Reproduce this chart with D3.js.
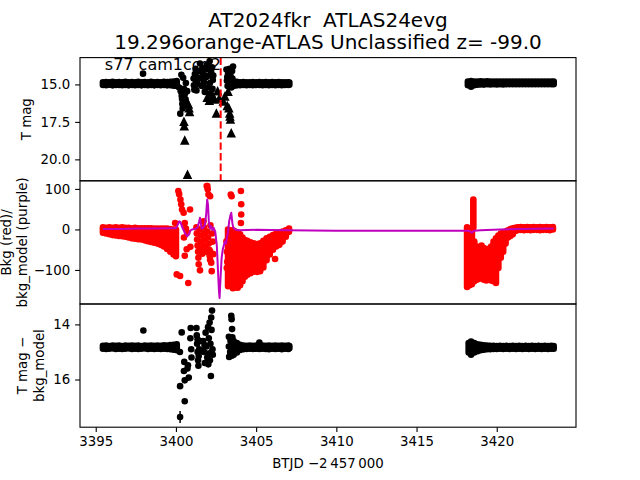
<!DOCTYPE html>
<html><head><meta charset="utf-8">
<script src="https://cdn.jsdelivr.net/npm/d3@7"></script>
<style>body{margin:0;background:#fff}svg text{font-family:"DejaVu Sans",sans-serif;fill:#000;white-space:pre}</style>
</head><body><svg id="c" width="640" height="480"></svg>
<script>
// ---------- data ----------
const titleLines = ["AT2024fkr  ATLAS24evg", "19.296orange-ATLAS Unclassified z= -99.0"];
const panelNote = "s77 cam1ccd2";
const xTicks = [3395, 3400, 3405, 3410, 3415, 3420];
const tmagTicks = [15.0, 17.5, 20.0];
const bkgTicks = [100, 0, -100];
const diffTicks = [14, 16];
const markerT = 3402.79;

// Panel 1: dense T mag band, as [time, faintest-bright spread low, high] per time bin
const tmagBand = [
 [3395.45,14.85,15.03],[3395.65,14.84,15.05],[3395.85,14.86,15.02],[3396.05,14.83,15.06],[3396.25,14.85,15.04],
 [3396.45,14.84,15.03],[3396.65,14.86,15.05],[3396.85,14.83,15.04],[3397.05,14.85,15.06],[3397.25,14.84,15.03],
 [3397.45,14.86,15.05],[3397.65,14.83,15.04],[3397.85,14.85,15.06],[3398.05,14.84,15.03],[3398.25,14.85,15.05],
 [3398.45,14.83,15.04],[3398.65,14.86,15.06],[3398.85,14.84,15.03],[3399.05,14.85,15.05],[3399.25,14.83,15.04],
 [3399.45,14.84,15.06],[3399.65,14.82,15.05],[3399.85,14.80,15.08],[3400.05,14.78,15.10],
 [3403.6,14.80,15.10],[3403.8,14.83,15.06],[3404.0,14.85,15.05],[3404.2,14.84,15.04],[3404.4,14.86,15.05],
 [3404.6,14.85,15.03],[3404.8,14.84,15.05],[3405.0,14.86,15.04],[3405.2,14.84,15.03],[3405.4,14.85,15.05],
 [3405.6,14.84,15.04],[3405.8,14.86,15.05],[3406.0,14.84,15.03],[3406.2,14.85,15.05],[3406.4,14.84,15.04],
 [3406.6,14.86,15.05],[3406.8,14.85,15.04],[3407.0,14.86,15.03],[3407.07,14.87,15.02],
 [3418.2,14.80,15.05],[3418.4,14.78,15.15],[3418.6,14.80,15.05],[3418.8,14.80,15.02],[3419.0,14.79,15.00],
 [3419.2,14.80,15.01],[3419.4,14.79,14.99],[3419.6,14.81,15.00],[3419.8,14.80,14.99],[3420.0,14.81,15.00],
 [3420.2,14.80,14.99],[3420.4,14.81,15.00],[3420.6,14.80,14.98],[3420.8,14.81,14.99],[3421.0,14.80,14.98],
 [3421.2,14.81,14.99],[3421.4,14.80,14.98],[3421.6,14.81,14.99],[3421.8,14.80,14.98],[3422.0,14.81,14.99],
 [3422.2,14.80,14.98],[3422.4,14.81,14.99],[3422.6,14.80,14.98],[3422.8,14.81,14.99],[3423.0,14.80,14.98],
 [3423.2,14.81,14.99],[3423.4,14.80,14.98],[3423.55,14.81,14.98]
];
const tmagDots = [
 [3397.95,14.28],
 [3400.2,15.2],[3400.27,16.95],[3400.3,15.45],[3400.34,14.35],[3400.36,15.75],[3400.38,15.98],[3400.4,16.3],[3400.42,16.6],
 [3400.45,14.55],[3400.5,15.3],[3400.55,15.65],[3400.6,16.0],[3400.62,14.9],[3400.65,16.25],[3400.7,15.45],
 [3401.1,14.6],[3401.12,15.05],[3401.15,15.35],[3401.18,14.3],[3401.22,13.95],[3401.25,14.8],[3401.28,15.4],[3401.3,14.15],
 [3401.33,14.5],[3401.2,15.2],[3401.35,14.95],
 [3401.5,13.6],[3401.55,14.1],[3401.58,14.6],[3401.62,15.1],[3401.7,14.3],[3401.75,14.85],[3401.8,15.5],[3401.85,14.0],
 [3401.9,14.5],[3401.95,15.2],[3402.0,13.8],[3402.05,14.4],[3402.1,13.45],[3402.12,14.9],[3402.15,15.6],[3402.2,14.2],
 [3402.25,13.85],[3402.3,14.7],[3402.28,15.3],[3402.33,14.4],[3401.65,13.9],[3401.92,13.7],[3402.18,14.05],
 [3403.15,14.0],[3403.2,14.5],[3403.22,15.1],[3403.25,14.3],[3403.3,14.8],[3403.35,13.95],[3403.4,14.4],[3403.45,15.2],
 [3403.5,14.1],[3403.56,13.8],[3403.52,14.6],[3403.18,14.75],[3403.42,14.65]
];
const tmagLimits = [
 [3400.5,17.45],[3400.52,17.75],[3400.55,18.7],[3400.72,21.0],[3400.78,16.3],[3400.82,16.55],[3400.85,16.8],
 [3401.95,15.85],[3402.08,16.05],[3402.3,15.75],[3402.4,15.98],[3402.52,16.9],[3402.6,15.42],[3402.7,15.9],
 [3402.95,16.1],[3403.05,15.78],[3403.2,16.4],[3403.3,16.55],[3403.35,16.9],[3403.37,17.1],[3403.4,17.3],
 [3403.45,18.22],[3403.25,15.45]
];

// Panel 2: dense background (red) per time bin as [time, high, low]; scattered points; model (purple)
const bkgCols = [
 [3395.45,5,-8],[3395.65,4,-10],[3395.85,5,-12],[3396.05,4,-14],[3396.25,5,-15],[3396.45,4,-16],[3396.65,5,-17],
 [3396.85,4,-18],[3397.05,4,-20],[3397.25,3,-22],[3397.45,4,-23],[3397.65,3,-24],[3397.85,3,-25],[3398.05,3,-27],
 [3398.25,3,-29],[3398.45,3,-31],[3398.65,2,-33],[3398.85,2,-35],[3399.05,2,-38],[3399.25,2,-42],[3399.45,2,-48],
 [3399.65,1,-55],[3399.85,0,-62],[3400.0,0,-66],
 [3403.25,0,-140],[3403.4,-3,-137],[3403.55,-2,-145],[3403.7,-5,-143],[3403.85,-8,-144],[3404.0,-12,-138],
 [3404.15,-20,-128],[3404.3,-26,-117],[3404.45,-28,-112],[3404.65,-32,-108],[3404.85,-34,-104],[3405.05,-36,-105],
 [3405.25,-34,-103],[3405.45,-28,-94],[3405.65,-22,-76],[3405.85,-18,-62],[3406.05,-14,-50],[3406.25,-10,-42],
 [3406.45,-8,-38],[3406.65,-5,-30],[3406.85,-2,-18],[3407.05,2,-6],
 [3418.15,5,-142],[3418.3,2,-138],[3418.45,-5,-135],[3418.54,74,4],[3418.6,-30,-128],[3418.75,-42,-124],
 [3418.9,-44,-122],[3419.05,-40,-120],[3419.2,-46,-124],[3419.35,-50,-126],[3419.5,-48,-124],[3419.65,-42,-126],
 [3419.8,-30,-128],[3419.95,-22,-132],[3420.1,-15,-95],[3420.25,-10,-70],[3420.4,-8,-55],[3420.55,-5,-35],
 [3420.7,-2,-20],[3420.85,1,-16],[3421.0,3,-12],[3421.15,4,-4],[3421.3,5,-2],[3421.5,6,-1],[3421.7,5,-2],
 [3421.9,6,-1],[3422.1,5,-2],[3422.3,6,-1],[3422.5,5,-1],[3422.7,6,-2],[3422.9,5,-1],[3423.1,6,-1],[3423.3,5,-2],
 [3423.5,6,0]
];
const bkgDots = [
 [3399.95,16],[3400.05,-111],[3400.15,95],[3400.2,87],[3400.26,-115],[3400.28,74],[3400.33,62],[3400.38,49],
 [3400.48,41],[3400.55,16],[3400.5,-20],[3400.55,-65],[3400.67,-49],[3400.77,-132],[3400.88,49],[3400.9,-43],
 [3400.7,-8],[3400.62,2],
 [3401.28,5],[3401.3,-10],[3401.32,-25],[3401.35,-40],[3401.38,-55],[3401.4,-70],[3401.42,-86],[3401.5,-101],
 [3401.52,0],[3401.55,-15],[3401.58,-30],[3401.62,-45],[3401.65,-60],[3401.5,-51],
 [3401.72,20],[3401.75,5],[3401.78,-10],[3401.8,-25],[3401.82,-40],[3401.85,-55],[3401.92,107],[3401.96,107],
 [3401.98,99],[3402.03,86],[3402.13,82],[3401.95,-5],[3402.0,-20],[3402.05,-35],[3402.08,-50],[3402.1,-65],
 [3402.13,-54],[3402.13,-75],[3402.2,-82],[3402.23,-103],[3402.15,10],[3402.25,-10],[3402.3,-30],[3402.33,-61],
 [3403.15,-29],[3403.18,-55],[3403.2,-80],[3403.17,-95],[3403.33,-119],[3403.42,86],[3403.47,82],
 [3404.05,95],[3404.07,62],[3404.07,37],[3404.05,16],[3406.18,-73]
];
const bkgModel = [
 [3395.45,1],[3396.5,1],[3397.5,2],[3398.5,2],[3399.5,3],[3400.0,3],[3400.1,10],[3400.2,20],[3400.28,18],[3400.4,5],
 [3400.55,-8],[3400.7,-17],[3400.8,-12],[3400.9,-3],[3401.0,0],[3401.2,1],[3401.35,5],[3401.45,20],[3401.5,29],
 [3401.55,15],[3401.6,2],[3401.7,4],[3401.8,10],[3401.88,35],[3401.95,74],[3402.0,60],[3402.05,20],[3402.1,8],
 [3402.15,2],[3402.2,8],[3402.28,-2],[3402.35,4],[3402.45,-5],[3402.55,-40],[3402.62,-100],[3402.68,-150],
 [3402.72,-169],[3402.78,-120],[3402.85,-70],[3402.92,-49],[3402.98,-40],[3403.05,-30],[3403.12,-35],[3403.18,-21],
 [3403.25,-5],[3403.32,20],[3403.4,35],[3403.45,41],[3403.52,15],[3403.58,4],[3403.7,0],[3403.9,-2],[3405,-1],
 [3407,-2],[3410,-3],[3415,-3],[3418.1,-3.5],[3418.3,-4],[3418.44,-8],[3418.6,-3],[3419.0,-2],[3420.2,0],
 [3421.5,1],[3423.55,2]
];

// Panel 3: T mag - bkg_model, dense band as [time, low, high]
const diffBand = [
 [3395.45,14.78,14.88],[3395.65,14.77,14.89],[3395.85,14.79,14.88],[3396.05,14.77,14.87],[3396.25,14.78,14.89],
 [3396.45,14.77,14.88],[3396.65,14.79,14.89],[3396.85,14.77,14.88],[3397.05,14.78,14.87],[3397.25,14.77,14.89],
 [3397.45,14.78,14.88],[3397.65,14.77,14.89],[3397.85,14.79,14.88],[3398.05,14.77,14.87],[3398.25,14.78,14.89],
 [3398.45,14.77,14.88],[3398.65,14.78,14.89],[3398.85,14.77,14.88],[3399.05,14.78,14.89],[3399.25,14.76,14.88],
 [3399.45,14.77,14.89],[3399.65,14.75,14.9],[3399.85,14.74,14.92],[3400.05,14.72,14.94],
 [3403.6,14.6,15.1],[3403.8,14.68,15.02],[3404.0,14.74,14.93],[3404.2,14.77,14.9],[3404.4,14.78,14.89],
 [3404.6,14.77,14.88],[3404.8,14.78,14.89],[3405.0,14.77,14.88],[3405.2,14.66,14.89],[3405.4,14.77,14.88],
 [3405.6,14.78,14.89],[3405.8,14.77,14.9],[3406.0,14.78,14.88],[3406.2,14.77,14.89],[3406.4,14.78,14.88],
 [3406.6,14.77,14.9],[3406.8,14.78,14.88],[3407.0,14.77,14.89],[3407.07,14.79,14.87],
 [3418.25,14.68,15.02],[3418.4,14.62,15.1],[3418.6,14.68,15.02],[3418.8,14.72,14.97],[3419.0,14.74,14.94],
 [3419.2,14.76,14.92],[3419.4,14.77,14.9],[3419.6,14.78,14.9],[3419.8,14.78,14.89],[3420.0,14.79,14.89],
 [3420.2,14.78,14.88],[3420.4,14.79,14.89],[3420.6,14.78,14.88],[3420.8,14.79,14.89],[3421.0,14.78,14.88],
 [3421.2,14.79,14.89],[3421.4,14.78,14.88],[3421.6,14.79,14.89],[3421.8,14.78,14.88],[3422.0,14.79,14.89],
 [3422.2,14.78,14.88],[3422.4,14.79,14.89],[3422.6,14.78,14.88],[3422.8,14.79,14.89],[3423.0,14.78,14.88],
 [3423.2,14.79,14.89],[3423.4,14.78,14.88],[3423.55,14.79,14.88]
];
const diffDots = [
 [3397.97,14.22],[3400.26,16.24],[3400.26,17.36],[3400.36,14.29],[3400.25,15.0],[3400.52,15.36],[3400.5,15.69],
 [3400.55,16.03],[3400.55,16.79],[3400.75,15.48],[3400.8,15.93],[3400.72,15.6],[3400.92,14.13],[3400.9,14.5],
 [3400.95,14.9],[3400.97,15.2],
 [3401.28,14.13],[3401.3,14.4],[3401.32,14.7],[3401.35,15.0],[3401.38,15.3],[3401.4,15.5],[3401.45,14.9],[3401.5,14.6],
 [3401.42,15.15],
 [3401.7,14.6],[3401.75,15.0],[3401.8,15.4],[3401.85,14.3],[3401.9,14.8],[3401.95,15.2],[3402.0,14.1],[3402.05,14.5],
 [3402.1,13.93],[3402.12,15.3],[3402.15,14.7],[3402.18,15.87],[3402.2,13.75],[3402.22,14.2],[3402.25,13.5],[3402.28,14.9],
 [3402.3,15.1],[3401.65,14.95],[3402.02,15.45],[3401.78,14.75],[3402.08,15.05],[3401.35,14.55],
 [3403.3,14.45],[3403.3,14.8],[3403.32,15.18],[3403.38,15.0],[3403.4,14.6],
 [3403.45,13.69],[3403.47,13.81],[3403.5,14.17],[3403.52,14.47],[3403.5,14.8],[3403.48,15.14],[3403.55,14.65],
 [3403.55,15.0],[3403.45,14.95]
];
const diffErr = [[3400.26,17.36,0.22]];

// ---------- layout ----------
const L = 80, R = 576;
const P = [{top:57.6,bot:180.8},{top:180.8,bot:304},{top:304,bot:427.2}];
const FS = 13.33;
const svg = d3.select('#c');
svg.append('rect').attr('width',640).attr('height',480).attr('fill','#fff');

const x = d3.scaleLinear().domain([3394.02,3424.94]).range([L,R]);
const y1 = d3.scaleLinear().domain([13.21,21.43]).range([P[0].top,P[0].bot]);
const y2 = d3.scaleLinear().domain([-184,120]).range([P[1].bot,P[1].top]);
const y3 = d3.scaleLinear().domain([13.26,17.73]).range([P[2].top,P[2].bot]);

const defs = svg.append('defs');
P.forEach((p,i)=>{
  defs.append('clipPath').attr('id','clip'+i).append('rect')
    .attr('x',L).attr('y',p.top).attr('width',R-L).attr('height',p.bot-p.top);
});
const g = P.map((p,i)=>svg.append('g').attr('clip-path',`url(#clip${i})`));

const r = 3.3;
function dots(gr, data, ys, color){
  gr.append('g').selectAll('circle').data(data).join('circle')
    .attr('cx',d=>x(d[0])).attr('cy',d=>ys(d[1])).attr('r',r).attr('fill',color);
}
// a time bin holding many overlapping markers: a round-capped run between its two extremes
function runs(gr, data, ys, color){
  gr.append('g').selectAll('line').data(data).join('line')
    .attr('x1',d=>x(d[0])).attr('x2',d=>x(d[0]))
    .attr('y1',d=>ys(d[1])).attr('y2',d=>ys(d[2]))
    .attr('stroke',color).attr('stroke-width',2*r).attr('stroke-linecap','round');
}
function tri(cx,cy,s){ return `M${cx},${cy-s/2}L${cx+s/2},${cy+s/2}L${cx-s/2},${cy+s/2}Z`; }

// Panel 1
runs(g[0], tmagBand, y1, '#000');
dots(g[0], tmagDots, y1, '#000');
g[0].append('g').selectAll('path').data(tmagLimits).join('path')
  .attr('d',d=>tri(x(d[0]),y1(d[1]),9.5)).attr('fill','#000');
g[0].append('line').attr('x1',x(markerT)).attr('x2',x(markerT))
  .attr('y1',P[0].top).attr('y2',P[0].bot)
  .attr('stroke','#ff0000').attr('stroke-width',2).attr('stroke-dasharray','7.4,3.2');

// Panel 2
runs(g[1], bkgCols, y2, '#ff0000');
dots(g[1], bkgDots, y2, '#ff0000');
g[1].append('path').datum(bkgModel)
  .attr('d',d3.line().x(d=>x(d[0])).y(d=>y2(d[1])))
  .attr('fill','none').attr('stroke','#bf00bf').attr('stroke-width',2).attr('stroke-linejoin','round');

// Panel 3
runs(g[2], diffBand, y3, '#000');
g[2].append('g').selectAll('line').data(diffErr).join('line')
  .attr('x1',d=>x(d[0])).attr('x2',d=>x(d[0]))
  .attr('y1',d=>y3(d[1]-d[2])).attr('y2',d=>y3(d[1]+d[2]))
  .attr('stroke','#000').attr('stroke-width',1.5);
dots(g[2], diffDots, y3, '#000');

// Frames
P.forEach(p=>{
  svg.append('rect').attr('x',L).attr('y',p.top).attr('width',R-L).attr('height',p.bot-p.top)
    .attr('fill','none').attr('stroke','#000').attr('stroke-width',1.1);
});

// Axes
function styleAxis(sel){
  sel.select('.domain').remove();
  sel.selectAll('.tick line').attr('stroke','#000').attr('stroke-width',1.1);
  sel.selectAll('.tick text').attr('font-size',FS).attr('font-family','DejaVu Sans').attr('fill','#000');
}
svg.append('g').attr('transform',`translate(${L},0)`)
  .call(d3.axisLeft(y1).tickValues(tmagTicks).tickFormat(d3.format('.1f')).tickSize(4.86).tickPadding(4.86)).call(styleAxis);
svg.append('g').attr('transform',`translate(${L},0)`)
  .call(d3.axisLeft(y2).tickValues(bkgTicks).tickFormat(d3.format('d')).tickSize(4.86).tickPadding(4.86)).call(styleAxis);
svg.append('g').attr('transform',`translate(${L},0)`)
  .call(d3.axisLeft(y3).tickValues(diffTicks).tickFormat(d3.format('d')).tickSize(4.86).tickPadding(4.86)).call(styleAxis);
svg.append('g').attr('transform',`translate(0,${P[2].bot})`)
  .call(d3.axisBottom(x).tickValues(xTicks).tickFormat(d3.format('d')).tickSize(4.86).tickPadding(4.86)).call(styleAxis);

// Labels
function ylab(lines, baselines, cy){
  lines.forEach((t,i)=>{
    svg.append('text').attr('transform',`translate(${baselines[i]},${cy}) rotate(-90)`)
      .attr('text-anchor','middle').attr('font-size',FS).text(t);
  });
}
ylab(['T mag'],[30.5],(P[0].top+P[0].bot)/2);
ylab(['Bkg (red)/','bkg_model (purple)'],[11,26.5],(P[1].top+P[1].bot)/2);
ylab(['T mag \u2212','bkg_model'],[27,43.5],(P[2].top+P[2].bot)/2);

svg.append('text').attr('x',(L+R)/2).attr('y',468).attr('text-anchor','middle').attr('font-size',FS)
  .text('BTJD \u22122\u2009457\u2009000');

svg.append('text').attr('x',(L+R)/2).attr('y',26.5).attr('text-anchor','middle').attr('font-size',20)
  .attr('xml:space','preserve').text(titleLines[0]);
svg.append('text').attr('x',(L+R)/2).attr('y',49.3).attr('text-anchor','middle').attr('font-size',20).text(titleLines[1]);

svg.append('text').attr('x',L+0.05*(R-L)).attr('y',P[0].bot-0.9*(P[0].bot-P[0].top))
  .attr('font-size',16).text(panelNote);
</script></body></html>
